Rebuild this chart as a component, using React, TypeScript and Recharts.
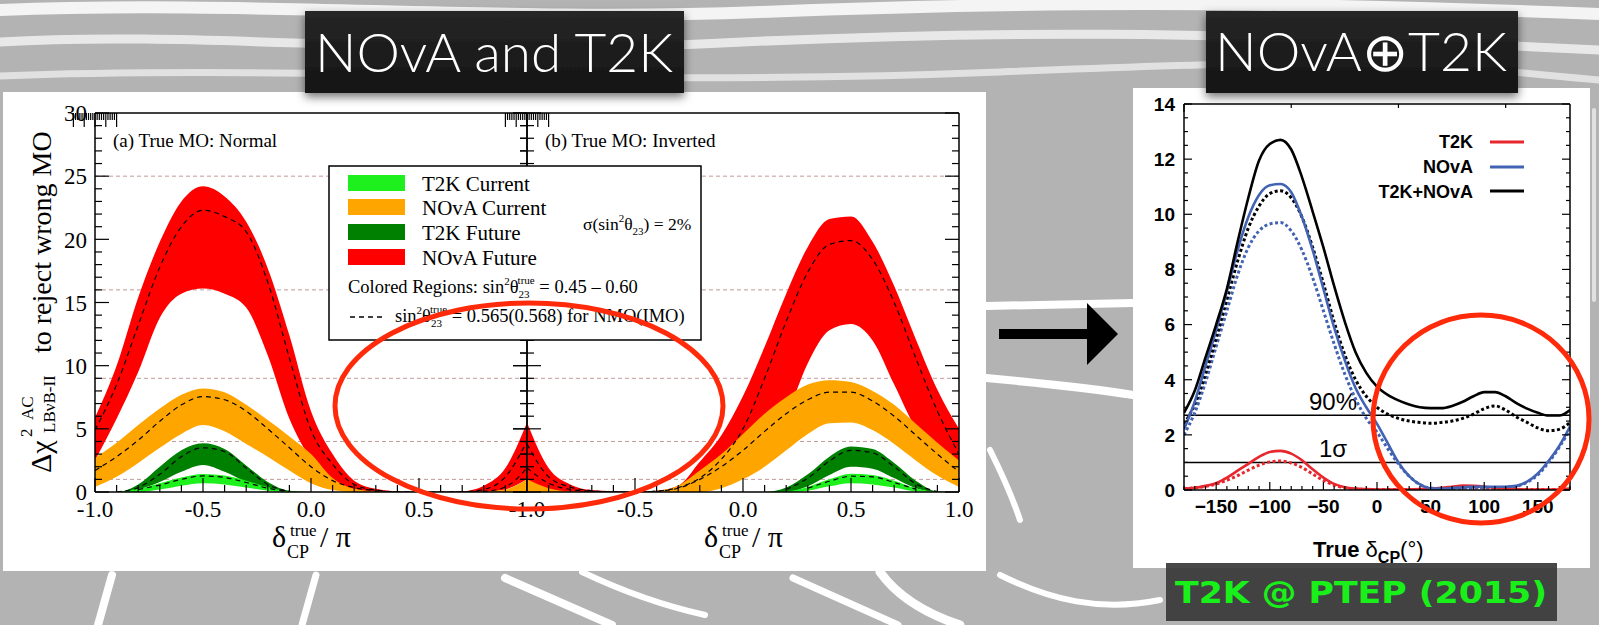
import { ComposedChart, LineChart, Area, Line, XAxis, YAxis, ReferenceLine } from 'recharts'

// ---- left figure: Δχ² to reject wrong MO vs δCP/π (both panels use the same grid)
const deltaPi = [-1, -0.9, -0.8, -0.7, -0.6, -0.5, -0.4, -0.3, -0.2, -0.1, 0, 0.1, 0.2, 0.3, 0.4, 0.5, 0.6, 0.7, 0.8, 0.9, 1]

// (a) true MO normal
const novaFutHiA = [5.9, 10.0, 15.4, 19.8, 23.0, 24.2, 23.4, 21.4, 17.7, 12.4, 6.4, 3.0, 0.9, 0.25, 0.05, 0, 0, 0.05, 0.5, 1.9, 5.5]
const novaFutLoA = [2.5, 5.8, 9.5, 13.8, 15.7, 16.1, 15.7, 14.6, 10.8, 5.8, 2.6, 0.8, 0.2, 0, 0, 0, 0, 0, 0, 0.2, 1.0]
const novaFutMidA = [4.9, 8.5, 13.2, 17.8, 21.0, 22.3, 21.8, 20.6, 16.6, 10.6, 4.9, 2.2, 0.6, 0.15, 0.02, 0, 0, 0.02, 0.2, 1.2, 4.0]
const novaCurHiA = [2.7, 3.9, 5.3, 6.6, 7.7, 8.2, 7.9, 6.9, 5.7, 4.4, 3.0, 1.1, 0.25, 0.05, 0, 0, 0, 0, 0.05, 0.2, 1.0]
const novaCurLoA = [0.4, 1.2, 2.3, 3.5, 4.6, 5.3, 4.8, 3.8, 2.8, 1.7, 0.7, 0.15, 0, 0, 0, 0, 0, 0, 0, 0, 0]
const novaCurMidA = [1.7, 2.8, 4.1, 5.6, 6.9, 7.55, 7.3, 6.4, 5.0, 3.5, 2.0, 0.9, 0.35, 0.1, 0, 0, 0, 0, 0.05, 0.4, 1.9]
const t2kFutHiA = [0, 0, 0.6, 2.0, 3.3, 3.85, 3.4, 2.1, 0.8, 0.1, 0, 0, 0, 0, 0, 0, 0, 0, 0, 0, 0]
const t2kFutLoA = [0, 0, 0.2, 0.8, 1.6, 2.14, 1.6, 0.8, 0.25, 0, 0, 0, 0, 0, 0, 0, 0, 0, 0, 0, 0]
const t2kFutMidA = [null, 0, 0.35, 1.4, 2.8, 3.5, 3.2, 1.9, 0.6, 0.05, null, null, null, null, null, null, null, null, null, null, null]
const t2kCurHiA = [0, 0, 0.25, 0.7, 1.15, 1.42, 1.3, 0.9, 0.4, 0.05, 0, 0, 0, 0, 0, 0, 0, 0, 0, 0, 0]
const t2kCurLoA = [0, 0, 0, 0.2, 0.5, 0.7, 0.6, 0.35, 0.1, 0, 0, 0, 0, 0, 0, 0, 0, 0, 0, 0, 0]
const t2kCurMidA = [null, null, 0.2, 0.55, 1.0, 1.27, 1.15, 0.75, 0.3, 0.03, null, null, null, null, null, null, null, null, null, null, null]

// (b) true MO inverted
const novaFutHiB = [5.5, 1.9, 0.6, 0.15, 0.05, 0.02, 0.1, 0.5, 2.4, 4.5, 7.6, 11.5, 15.7, 19.4, 21.6, 21.8, 19.8, 16.3, 12.1, 8.1, 5.0]
const novaFutLoB = [0.8, 0.2, 0, 0, 0, 0, 0, 0, 0.1, 0.5, 1.4, 3.2, 6.0, 10.2, 12.8, 13.3, 12.0, 8.5, 5.0, 2.5, 1.2]
const novaFutMidB = [3.8, 1.2, 0.4, 0.1, 0, 0, 0.08, 0.35, 1.1, 2.6, 5.0, 9.0, 13.5, 17.4, 19.6, 19.9, 18.4, 15.0, 10.6, 6.4, 3.0]
const novaCurHiB = [1.0, 0.3, 0.05, 0, 0, 0, 0.1, 0.5, 1.7, 3.0, 4.6, 6.2, 7.5, 8.5, 8.85, 8.7, 8.0, 6.9, 5.4, 3.9, 2.5]
const novaCurLoB = [0, 0, 0, 0, 0, 0, 0, 0, 0, 0.3, 1.0, 2.0, 3.3, 4.6, 5.45, 5.5, 4.9, 3.8, 2.5, 1.3, 0.4]
const novaCurMidB = [1.9, 0.7, 0.2, 0.05, 0, 0, 0.05, 0.3, 1.0, 2.0, 3.3, 4.8, 6.2, 7.3, 7.9, 7.9, 7.2, 6.0, 4.5, 3.0, 1.6]
const t2kFutHiB = [0, 0, 0, 0, 0, 0, 0, 0, 0, 0, 0, 0, 0.35, 1.4, 2.8, 3.6, 3.4, 2.3, 0.9, 0.05, 0]
const t2kFutLoB = [0, 0, 0, 0, 0, 0, 0, 0, 0, 0, 0, 0, 0, 0.45, 1.35, 2.0, 1.85, 1.1, 0.3, 0, 0]
const t2kFutMidB = [null, null, null, null, null, null, null, null, null, null, null, null, 0.2, 1.1, 2.45, 3.3, 3.1, 2.0, 0.65, 0.03, null]
const t2kCurHiB = [0, 0, 0, 0, 0, 0, 0, 0, 0, 0, 0, 0, 0.05, 0.4, 1.0, 1.45, 1.35, 0.9, 0.3, 0, 0]
const t2kCurLoB = [0, 0, 0, 0, 0, 0, 0, 0, 0, 0, 0, 0, 0, 0.1, 0.45, 0.7, 0.6, 0.35, 0.05, 0, 0]
const t2kCurMidB = [null, null, null, null, null, null, null, null, null, null, null, null, null, 0.3, 0.85, 1.25, 1.2, 0.75, 0.22, null, null]

const xLabelAtPi = [-1, -0.5, 0, 0.5, 1]
const xLabelsPi = ['-1.0', '-0.5', '0.0', '0.5', '1.0']
const yTicksMo = [0, 1, 2, 3, 4, 5, 6, 7, 8, 9, 10, 11, 12, 13, 14, 15, 16, 17, 18, 19, 20, 21, 22, 23, 24, 25, 26, 27, 28, 29, 30]
const yLabelAtMo = [0, 5, 10, 15, 20, 25, 30]
const yLabelsMo = ['0', '5', '10', '15', '20', '25', '30']
const sigmaLevels = [1, 4, 9, 16, 25]

// ---- right figure: NOvA ⊕ T2K, Δχ² vs true δCP (deg)
const deltaDeg = [-180, -170, -160, -150, -140, -130, -120, -110, -100, -90, -80, -70, -60, -50, -40, -30, -20, -10, 0, 10, 20, 30, 40, 50, 60, 70, 80, 90, 100, 110, 120, 130, 140, 150, 160, 170, 180]
const comboSolid = [2.8, 3.6, 4.8, 6.0, 7.3, 9.0, 10.6, 11.95, 12.55, 12.7, 12.35, 11.35, 10.1, 8.8, 7.4, 6.1, 5.0, 4.25, 3.75, 3.45, 3.25, 3.1, 3.0, 2.97, 2.97, 3.05, 3.2, 3.4, 3.55, 3.55, 3.4, 3.15, 2.95, 2.8, 2.7, 2.7, 2.9]
const comboDotted = [2.4, 3.1, 4.2, 5.5, 6.9, 8.3, 9.5, 10.3, 10.75, 10.85, 10.6, 9.9, 8.8, 7.5, 6.1, 4.9, 4.0, 3.4, 3.0, 2.75, 2.6, 2.5, 2.45, 2.42, 2.45, 2.5, 2.6, 2.75, 2.95, 3.05, 2.9, 2.65, 2.45, 2.25, 2.15, 2.2, 2.45]
const novaSolid = [2.2, 3.2, 4.5, 5.8, 7.2, 8.7, 9.9, 10.7, 11.05, 11.1, 10.8, 9.9, 8.7, 7.3, 5.9, 4.7, 3.7, 3.0, 2.4, 1.7, 1.0, 0.5, 0.2, 0.06, 0.05, 0.07, 0.1, 0.12, 0.12, 0.12, 0.12, 0.15, 0.3, 0.6, 1.05, 1.6, 2.3]
const novaDotted = [2.0, 2.8, 3.9, 5.2, 6.5, 7.8, 8.8, 9.4, 9.65, 9.7, 9.4, 8.7, 7.7, 6.5, 5.3, 4.2, 3.3, 2.6, 2.1, 1.5, 0.95, 0.5, 0.2, 0.07, 0.05, 0.05, 0.06, 0.07, 0.08, 0.08, 0.1, 0.14, 0.28, 0.55, 1.0, 1.55, 2.2]
const t2kSolid = [0.05, 0.08, 0.15, 0.25, 0.45, 0.7, 0.95, 1.2, 1.38, 1.42, 1.32, 1.08, 0.75, 0.45, 0.22, 0.1, 0.05, 0.03, 0.02, 0.02, 0.02, 0.02, 0.03, 0.05, 0.08, 0.12, 0.16, 0.15, 0.12, 0.08, 0.05, 0.03, 0.02, 0.02, 0.02, 0.02, 0.05]
const t2kDotted = [0.05, 0.08, 0.13, 0.22, 0.35, 0.52, 0.72, 0.9, 1.02, 1.05, 0.98, 0.82, 0.58, 0.35, 0.18, 0.08, 0.04, 0.02, 0.02, 0.02, 0.02, 0.02, 0.02, 0.03, 0.05, 0.08, 0.1, 0.1, 0.08, 0.05, 0.03, 0.02, 0.02, 0.02, 0.02, 0.02, 0.05]
const degLabelAt = [-150, -100, -50, 0, 50, 100, 150]
const degLabels = ['−150', '−100', '−50', '0', '50', '100', '150']
const chiTicks = [0, 0.5, 1, 1.5, 2, 2.5, 3, 3.5, 4, 4.5, 5, 5.5, 6, 6.5, 7, 7.5, 8, 8.5, 9, 9.5, 10, 10.5, 11, 11.5, 12, 12.5, 13, 13.5, 14]
const chiLabelAt = [0, 2, 4, 6, 8, 10, 12, 14]
const chiLabels = ['0', '2', '4', '6', '8', '10', '12', '14']
const cl90 = 2.71
const oneSigma = 1

const rowsA = deltaPi.map((x, i) => ({
  x,
  nf: [novaFutLoA[i], novaFutHiA[i]], nfMid: novaFutMidA[i],
  nc: [novaCurLoA[i], novaCurHiA[i]], ncMid: novaCurMidA[i],
  tf: [t2kFutLoA[i], t2kFutHiA[i]], tfMid: t2kFutMidA[i],
  tc: [t2kCurLoA[i], t2kCurHiA[i]], tcMid: t2kCurMidA[i],
}))
const rowsB = deltaPi.map((x, i) => ({
  x,
  nf: [novaFutLoB[i], novaFutHiB[i]], nfMid: novaFutMidB[i],
  nc: [novaCurLoB[i], novaCurHiB[i]], ncMid: novaCurMidB[i],
  tf: [t2kFutLoB[i], t2kFutHiB[i]], tfMid: t2kFutMidB[i],
  tc: [t2kCurLoB[i], t2kCurHiB[i]], tcMid: t2kCurMidB[i],
}))
const rowsDeg = deltaDeg.map((d, i) => ({
  d, comboSolid: comboSolid[i], comboDotted: comboDotted[i], novaSolid: novaSolid[i],
  novaDotted: novaDotted[i], t2kSolid: t2kSolid[i], t2kDotted: t2kDotted[i],
}))

const SERIF = '"Liberation Serif", "DejaVu Serif", serif'
const SANS = '"Liberation Sans", Arial, sans-serif'
const frameLine = { stroke: '#000', strokeWidth: 1.5 }
const serifTick = { fontFamily: SERIF, fontSize: 23, fill: '#000' }
const sansTick = { fontFamily: SANS, fontSize: 19, fontWeight: 700, fill: '#000' }

type Side = 'top' | 'bottom' | 'left' | 'right' | 'both'

// inward tick marks (major/minor) plus optional labels, drawn from the axis' own tick positions
function marks(side: Side, majorStep: number, big: number, small: number, labelAt?: number[], labels?: string[], font?: any, offset = 0) {
  return (p: any) => {
    const v = p.payload.value
    const n = Math.abs(v / majorStep - Math.round(v / majorStep)) < 1e-6 ? big : small
    const { x, y } = p
    let s = [x, y, x, y - n]
    if (side === 'top') s = [x, y, x, y + n]
    if (side === 'left') s = [x, y, x + n, y]
    if (side === 'right') s = [x, y, x - n, y]
    if (side === 'both') s = [x - n, y, x + n, y]
    const k = labelAt ? labelAt.findIndex((t) => Math.abs(t - v) < 1e-6) : -1
    return (
      <g>
        <line x1={s[0]} y1={s[1]} x2={s[2]} y2={s[3]} stroke="#000" strokeWidth={1.2} />
        {k >= 0 && labels && (side === 'bottom'
          ? <text x={x} y={y + offset} textAnchor="middle" {...font}>{labels[k]}</text>
          : <text x={x - offset} y={y} dy="0.36em" textAnchor="end" {...font}>{labels[k]}</text>)}
      </g>
    )
  }
}

function MoPanel({ rows, first }: { rows: any[]; first: boolean }) {
  const margin = first ? { top: 112, right: 32, left: 35, bottom: 38 } : { top: 112, right: 40, left: 46, bottom: 38 }
  const ids = { xAxisId: 'x', yAxisId: 'y' }
  const dash = { stroke: '#000', strokeWidth: 1.2, strokeDasharray: '5 4', dot: false, activeDot: false, isAnimationActive: false, type: 'monotone' as const }
  return (
    <ComposedChart width={first ? 560 : 520} height={560} data={rows} margin={margin}>
      <XAxis xAxisId="x" dataKey="x" type="number" domain={[-1, 1]} allowDataOverflow ticks={deltaPi} interval={0}
        height={30} tickSize={0} tickMargin={0} tickLine={false} axisLine={frameLine}
        tick={marks('bottom', 0.5, 14, 7, first ? xLabelAtPi.slice(0, 4) : xLabelAtPi, first ? xLabelsPi.slice(0, 4) : xLabelsPi, serifTick, 25)} />
      <XAxis xAxisId="t" orientation="top" type="number" domain={[-1, 1]} allowDataOverflow ticks={deltaPi} interval={0}
        height={1} tickSize={0} tickMargin={0} tickLine={false} axisLine={frameLine} tick={marks('top', 0.5, 14, 7)} />
      <YAxis yAxisId="y" type="number" domain={[0, 30]} allowDataOverflow ticks={yTicksMo} interval={0}
        width={first ? 60 : 1} tickSize={0} tickMargin={0} tickLine={false} axisLine={frameLine}
        tick={first ? marks('left', 5, 14, 7, yLabelAtMo, yLabelsMo, serifTick, 8) : marks('both', 5, 14, 7)} />
      <YAxis yAxisId="r" orientation="right" type="number" domain={[0, 30]} allowDataOverflow ticks={yTicksMo} interval={0}
        width={1} tickSize={0} tickMargin={0} tickLine={false} axisLine={frameLine} tick={marks('right', 5, 14, 7)} />
      {sigmaLevels.map((v) => (
        <ReferenceLine key={v} {...ids} y={v} stroke="#c29a9a" strokeWidth={1} strokeDasharray="4 3" zIndex={0} />
      ))}
      <Area {...ids} dataKey="nf" type="monotone" fill="#ff0000" fillOpacity={1} stroke="none" isAnimationActive={false} />
      <Area {...ids} dataKey="nc" type="monotone" fill="#ffa500" fillOpacity={1} stroke="none" isAnimationActive={false} />
      <Area {...ids} dataKey="tf" type="monotone" fill="#008000" fillOpacity={1} stroke="none" isAnimationActive={false} />
      <Area {...ids} dataKey="tc" type="monotone" fill="#1ef01e" fillOpacity={1} stroke="none" isAnimationActive={false} />
      <Line {...ids} dataKey="nfMid" {...dash} />
      <Line {...ids} dataKey="ncMid" {...dash} />
      <Line {...ids} dataKey="tfMid" {...dash} />
      <Line {...ids} dataKey="tcMid" {...dash} />
    </ComposedChart>
  )
}

function CombinedChart() {
  const ids = { xAxisId: 'x', yAxisId: 'y' }
  const base = { type: 'monotone' as const, dot: false, activeDot: false, isAnimationActive: false, strokeWidth: 2.6 }
  const dotted = { ...base, strokeWidth: 3, strokeDasharray: '3 2.5' }
  const refLabel = (text: string) => (p: any) => (
    <text x={p.viewBox.x + 149} y={p.viewBox.y - 5} textAnchor="middle" fontFamily={SANS} fontSize={24} fill="#000">{text}</text>
  )
  return (
    <LineChart width={499} height={600} data={rowsDeg} margin={{ top: 103, right: 28, left: 24, bottom: 80 }}>
      <XAxis xAxisId="x" dataKey="d" type="number" domain={[-180, 180]} allowDataOverflow ticks={deltaDeg} interval={0}
        height={30} tickSize={0} tickMargin={0} tickLine={false} axisLine={frameLine}
        tick={marks('bottom', 50, 8, 4, degLabelAt, degLabels, sansTick, 23)} />
      <XAxis xAxisId="t" orientation="top" type="number" domain={[-180, 180]} allowDataOverflow ticks={deltaDeg} interval={0}
        height={1} tickSize={0} tickMargin={0} tickLine={false} axisLine={frameLine} tick={marks('top', 50, 8, 4)} />
      <YAxis yAxisId="y" type="number" domain={[0, 14]} allowDataOverflow ticks={chiTicks} interval={0}
        width={60} tickSize={0} tickMargin={0} tickLine={false} axisLine={frameLine}
        tick={marks('left', 2, 8, 4, chiLabelAt, chiLabels, sansTick, 9)} />
      <YAxis yAxisId="r" orientation="right" type="number" domain={[0, 14]} allowDataOverflow ticks={chiTicks} interval={0}
        width={1} tickSize={0} tickMargin={0} tickLine={false} axisLine={frameLine} tick={marks('right', 2, 8, 4)} />
      <ReferenceLine {...ids} y={cl90} stroke="#000" strokeWidth={1.5} label={refLabel('90%')} />
      <ReferenceLine {...ids} y={oneSigma} stroke="#000" strokeWidth={1.5} label={refLabel('1σ')} />
      <Line {...ids} dataKey="t2kDotted" stroke="#e8262d" {...dotted} />
      <Line {...ids} dataKey="novaDotted" stroke="#4262b4" {...dotted} />
      <Line {...ids} dataKey="comboDotted" stroke="#000" {...dotted} />
      <Line {...ids} dataKey="t2kSolid" stroke="#e8262d" {...base} />
      <Line {...ids} dataKey="novaSolid" stroke="#4262b4" {...base} />
      <Line {...ids} dataKey="comboSolid" stroke="#000" {...base} />
    </LineChart>
  )
}

function Backdrop() {
  const w = { stroke: '#fff', fill: 'none', strokeLinecap: 'round' as const }
  return (
    <svg width={1599} height={625} style={{ position: 'absolute', left: 0, top: 0 }}>
      <rect width={1599} height={625} fill="#b3b3b3" />
      <path d="M0,10 C250,0 500,22 760,12 S1250,0 1599,14" strokeWidth={12} opacity={0.85} {...w} />
      <path d="M0,42 C200,30 420,58 700,44 S1200,30 1599,50" strokeWidth={9} opacity={0.7} {...w} />
      <path d="M0,76 C300,64 600,88 1000,72 S1400,62 1599,80" strokeWidth={7} opacity={0.6} {...w} />
      <path d="M986,306 L1133,303" strokeWidth={8} {...w} />
      <path d="M986,378 C1040,383 1090,388 1133,395" strokeWidth={8} {...w} />
      <path d="M990,450 C1000,470 1010,490 1020,520" strokeWidth={6} {...w} />
      <path d="M112,575 L98,625" strokeWidth={8} {...w} />
      <path d="M316,575 L302,625" strokeWidth={7} {...w} />
      <path d="M505,578 L612,625" strokeWidth={8} {...w} />
      <path d="M582,572 C620,590 660,605 705,615" strokeWidth={6} {...w} />
      <path d="M793,578 L898,625" strokeWidth={7} {...w} />
      <path d="M880,572 C900,600 930,615 960,625" strokeWidth={9} {...w} />
      <path d="M1000,575 C1050,600 1100,612 1160,600" strokeWidth={6} {...w} />
      <path d="M1594,110 L1594,300" strokeWidth={4} opacity={0.6} {...w} />
      <rect x={3} y={92} width={983} height={479} fill="#fff" />
      <rect x={1133} y={88} width={457} height={480} fill="#fff" />
    </svg>
  )
}

function Overlay() {
  const s = { fontFamily: SERIF, fill: '#000' }
  const sw = [
    { c: '#1ef01e', t: 'T2K Current', y: 175 },
    { c: '#ffa500', t: 'NOvA Current', y: 199 },
    { c: '#008000', t: 'T2K Future', y: 224 },
    { c: '#ff0000', t: 'NOvA Future', y: 249 },
  ]
  const xTitle = (cx: number) => (
    <g {...s} key={cx}>
      <text x={cx - 39} y={547} fontSize={30}>δ</text>
      <text x={cx - 21} y={536} fontSize={17}>true</text>
      <text x={cx - 24} y={558} fontSize={18}>CP</text>
      <text x={cx + 9} y={547} fontSize={30}>/ π</text>
    </g>
  )
  const leg = [
    { t: 'T2K', c: '#e8262d', y: 148, ly: 142 },
    { t: 'NOvA', c: '#4262b4', y: 173, ly: 167 },
    { t: 'T2K+NOvA', c: '#000', y: 198, ly: 191 },
  ]
  return (
    <svg width={1599} height={625} style={{ position: 'absolute', left: 0, top: 0, pointerEvents: 'none' }}>
      <defs>
        <filter id="sh" x="-10%" y="-20%" width="120%" height="160%">
          <feDropShadow dx="0" dy="4" stdDeviation="5" floodColor="#000" floodOpacity="0.55" />
        </filter>
        <linearGradient id="box" x1="0" y1="0" x2="0" y2="1">
          <stop offset="0" stopColor="#262626" />
          <stop offset="1" stopColor="#141414" />
        </linearGradient>
      </defs>

      {/* left figure annotations */}
      <text x={113} y={147} fontSize={19} {...s}>(a) True MO: Normal</text>
      <text x={545} y={147} fontSize={19} {...s}>(b) True MO: Inverted</text>
      <g {...s}>
        <text transform="translate(51,473) rotate(-90)" fontSize={30}>Δχ</text>
        <text transform="translate(32,437) rotate(-90)" fontSize={17}>2</text>
        <text transform="translate(33,420) rotate(-90)" fontSize={17}>AC</text>
        <text transform="translate(55,433) rotate(-90)" fontSize={17}>LBνB-II</text>
        <text transform="translate(51,353) rotate(-90)" fontSize={28}>to reject wrong MO</text>
      </g>
      {xTitle(311)}
      {xTitle(743)}
      <rect x={329} y={166} width={372} height={174} fill="#fff" stroke="#000" strokeWidth={1.5} />
      {sw.map((r) => (
        <g key={r.t}>
          <rect x={348} y={r.y} width={57} height={16} fill={r.c} />
          <text x={422} y={r.y + 16} fontSize={21} {...s}>{r.t}</text>
        </g>
      ))}
      <text x={583} y={230} fontSize={17.5} {...s}>
        σ(sin<tspan dy={-8} fontSize={11}>2</tspan><tspan dy={8}>θ</tspan><tspan dy={5} fontSize={11}>23</tspan><tspan dy={-5}>) = 2%</tspan>
      </text>
      <text x={348} y={293} fontSize={18.5} {...s}>
        Colored Regions: sin<tspan dy={-8} fontSize={11}>2</tspan><tspan dy={8}>θ</tspan><tspan dy={5} fontSize={11}>23</tspan>
        <tspan dx={-12} dy={-14} fontSize={11}>true</tspan><tspan dy={9}> = 0.45 – 0.60</tspan>
      </text>
      <line x1={350} x2={384} y1={317} y2={317} stroke="#000" strokeWidth={1.4} strokeDasharray="5 4" />
      <text x={395} y={322} fontSize={18.5} {...s}>
        sin<tspan dy={-8} fontSize={11}>2</tspan><tspan dy={8}>θ</tspan><tspan dy={5} fontSize={11}>23</tspan>
        <tspan dx={-12} dy={-14} fontSize={11}>true</tspan><tspan dy={9}> = 0.565(0.568) for NMO(IMO)</tspan>
      </text>
      <ellipse cx={529} cy={406} rx={194} ry={103} fill="none" stroke="#ff2a0a" strokeWidth={5} />

      {/* right figure annotations */}
      {leg.map((r) => (
        <g key={r.t}>
          <text x={1473} y={r.y} textAnchor="end" fontFamily={SANS} fontWeight={700} fontSize={18} fill="#000">{r.t}</text>
          <line x1={1490} x2={1524} y1={r.ly} y2={r.ly} stroke={r.c} strokeWidth={3} />
        </g>
      ))}
      <text x={1313} y={557} fontFamily={SANS} fontWeight={700} fontSize={22} fill="#000">
        True <tspan fontWeight={400}>δ</tspan><tspan dy={6} fontSize={16}>CP</tspan><tspan dy={-6} fontWeight={400}>(°)</tspan>
      </text>
      <ellipse cx={1481} cy={419} rx={108} ry={104} fill="none" stroke="#ff2a0a" strokeWidth={5} />

      {/* slide furniture */}
      <path d="M999,329 L1087,329 L1087,303 L1118,334 L1087,365 L1087,339 L999,339 Z" fill="#000" />
      <rect x={305} y={11} width={379} height={82} fill="url(#box)" filter="url(#sh)" />
      <text x={315} y={72} fontFamily="Lato, 'Open Sans', sans-serif" fontWeight={300} fontSize={54} fill="#fff"
        textLength={358} lengthAdjust="spacingAndGlyphs">NOvA and T2K</text>
      <rect x={1206} y={11} width={312} height={82} fill="url(#box)" filter="url(#sh)" />
      <text x={1215} y={71} fontFamily="Lato, 'Open Sans', sans-serif" fontWeight={300} fontSize={54} fill="#fff"
        textLength={292} lengthAdjust="spacingAndGlyphs">NOvA⊕T2K</text>
      <rect x={1166} y={563} width={391} height={58} fill="#383838" opacity={0.92} />
      <text x={1175} y={603} fontFamily="'DejaVu Sans', Verdana, sans-serif" fontWeight={700} fontSize={31} fill="#19f019"
        textLength={372} lengthAdjust="spacingAndGlyphs">T2K @ PTEP (2015)</text>
    </svg>
  )
}

export default function App() {
  return (
    <div style={{ position: 'absolute', left: 0, top: 0, width: 1599, height: 625, overflow: 'hidden', background: '#b3b3b3' }}>
      <Backdrop />
      <div style={{ position: 'absolute', left: 0, top: 0 }}>
        <MoPanel rows={rowsA} first />
      </div>
      <div style={{ position: 'absolute', left: 480, top: 0 }}>
        <MoPanel rows={rowsB} first={false} />
      </div>
      <div style={{ position: 'absolute', left: 1100, top: 0 }}>
        <CombinedChart />
      </div>
      <Overlay />
    </div>
  )
}
